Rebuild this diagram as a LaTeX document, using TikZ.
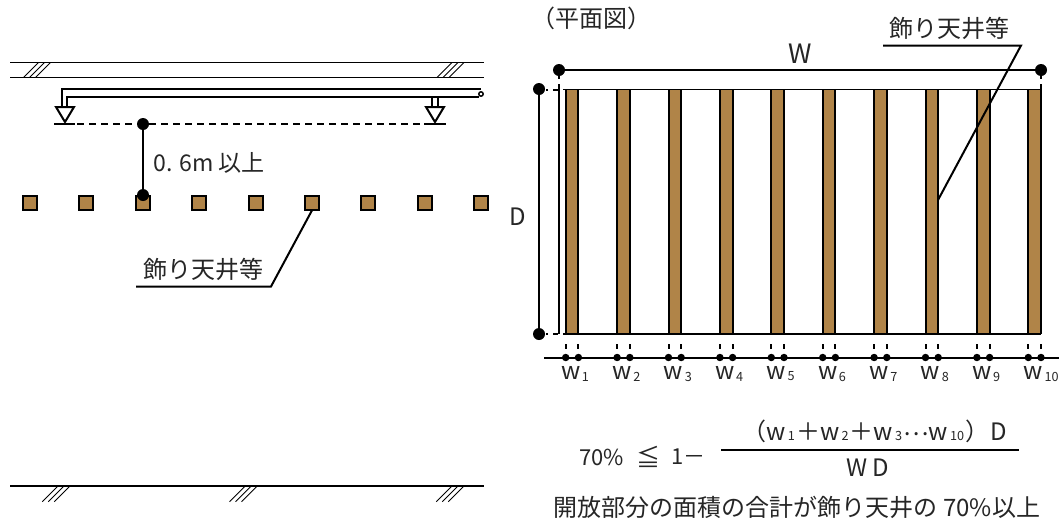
\documentclass[tikz,border=0pt]{standalone}
\usepackage{fontspec}
\setmainfont{Noto Sans CJK JP}
\definecolor{beam}{HTML}{B08448}
\tikzset{
  thick line/.style={draw=black,line width=1.5pt},
  thin line/.style={draw=black,line width=0.75pt},
  hatch line/.style={draw=black,line width=0.7pt},
  bigdot/.style={circle,fill=black,inner sep=0pt,minimum size=9pt},
  smalldot/.style={circle,fill=black,inner sep=0pt,minimum size=5.6pt},
  beamsec/.style={rectangle,draw=black,line width=1.5pt,fill=beam,inner sep=0pt,minimum size=10.5pt},
  txt/.style={inner sep=0pt,font=\fontsize{18pt}{20pt}\selectfont,text=black!85},
  midtxt/.style={inner sep=0pt,font=\fontsize{16.5pt}{18pt}\selectfont,text=black!85},
  bigtxt/.style={inner sep=0pt,font=\fontsize{20pt}{22pt}\selectfont,text=black!85},
  subtxt/.style={inner sep=0pt,font=\fontsize{9.5pt}{12pt}\selectfont,text=black!85},
}
\newcommand{\hatchthree}[4]{% x bottom, y bottom, dx, dy
  \foreach \k in {0,6,12}{\draw[hatch line] ({#1+\k},#2) -- ({#1+\k+#3},{#2-#4});}}
\newcommand{\subnum}[1]{{\fontsize{9.5pt}{12pt}\selectfont\hspace{1.5pt}#1\hspace{1pt}}}
\begin{document}
\begin{tikzpicture}[x=0.75pt,y=-0.75pt]
\useasboundingbox (0,0) rectangle (1059,522);
% left: slab
\draw[thin line,line width=1.3pt] (10,62.5) -- (484,62.5);
\draw[thin line,line width=1.3pt] (10,77.5) -- (484,77.5);
\hatchthree{23.5}{77.5}{15}{15}
\hatchthree{437}{77.5}{15}{15}
% pipe
\draw[thick line] (62,107) -- (62,89) -- (481,89);
\draw[thick line] (67,107) -- (67,96.7) -- (479,96.7);
\draw[thick line] (432,96.7) -- (432,107);
\draw[thick line] (438,96.7) -- (438,107);
\draw[thin line,line width=1.1pt,fill=white] (481,94) circle (2.2);
\draw[thick line,fill=white,line join=miter] (56,107) -- (74,107) -- (65,122) -- cycle;
\draw[thick line,fill=white,line join=miter] (426,107) -- (444,107) -- (435,122) -- cycle;
\draw[thick line] (54,124.3) -- (75,124.3);
\draw[thick line] (424,124.3) -- (446,124.3);
\draw[thin line,line width=1.4pt,dash pattern=on 5pt off 4pt] (77,124.3) -- (424,124.3);
% beams section
\foreach \n/\x in {1/30,2/86.4,3/142.8,4/199.1,5/255.5,6/311.9,7/368.2,8/424.6,9/481}{
  \node[beamsec] (sq\n) at (\x,202.5) {};
}
\node[bigdot] (hA) at (143,124) {};
\node[bigdot] (hB) at (143,195) {};
\draw[thick line] (hA) -- (hB);
\node[txt,anchor=west,font=\fontsize{17.3pt}{20pt}\selectfont] (lblh) at (153,163) {0. 6m 以上};
\node[txt,anchor=center] (lblL) at (203,269) {飾り天井等};
\coordinate (kneeL) at (271,286.5);
\coordinate (endL) at (136,286.5);
\draw[thick line,line join=miter] (sq6.south) -- (kneeL) -- (endL);
% ground
\draw[thick line,line width=1.8pt] (10,485.7) -- (484,485.7);
\hatchthree{42.3}{501.7}{15}{15}
\hatchthree{229.5}{501.7}{15}{15}
\hatchthree{436.3}{501.7}{15}{15}
% right plan
\node[txt] (plan) at (591.5,18) {（平面図）};
\foreach \i in {0,...,9}{
  \pgfmathsetmacro{\xa}{565.7+51.4*\i}
  \pgfmathsetmacro{\xb}{\xa+12.7}
  \fill[beam] (\xa,89.5) rectangle (\xb,334);
  \draw[thick line] (\xa,89.5) -- (\xa,334);
  \draw[thick line] (\xb,89.5) -- (\xb,334);
  \draw[thick line] (\xa,344) -- (\xa,349);
  \draw[thick line] (\xb,344) -- (\xb,349);
}
\draw[thin line,line width=1.3pt] (563,89.5) -- (1041,89.5);
\draw[thin line,line width=1.3pt] (563,334) -- (1041,334);
\draw[thick line] (553,89.5) -- (558,89.5);
\draw[thick line] (553,334) -- (558,334);
\draw[thick line] (559,84) -- (559,334);
\draw[thick line] (1041,84) -- (1041,89.5);
\draw[thick line] (559,74) -- (559,79);
\draw[thick line] (1041,74) -- (1041,79);
\draw[thick line] (546,89.5) -- (548,89.5);
\draw[thick line] (546,334) -- (548,334);
% W
\node[bigdot] (wL) at (559,70) {};
\node[bigdot] (wR) at (1041,70) {};
\draw[thick line] (wL) -- (wR);
\node[bigtxt] (lblW) at (800,54) {W};
% D
\node[bigdot] (dT) at (539,89) {};
\node[bigdot] (dB) at (539,334) {};
\draw[thick line] (dT) -- (dB);
\node[txt] (lblD) at (518,217) {D};
% leader
\node[txt] (lblR) at (949,28) {飾り天井等};
\coordinate (endR) at (883,45.5);
\coordinate (kneeR) at (1021,45.5);
\coordinate (tipR) at (938,200);
\draw[thick line,line join=miter] (endR) -- (kneeR) -- (tipR);
% bottom dim
\coordinate (bL) at (544,357.5);
\coordinate (bR) at (1059,357.5);
\draw[thick line] (bL) -- (bR);
\foreach \i in {0,...,9}{
  \pgfmathsetmacro{\xa}{565.7+51.4*\i}
  \pgfmathsetmacro{\xb}{\xa+12.7}
  \pgfmathtruncatemacro{\num}{\i+1}
  \node[smalldot] at (\xa,357.5) {};
  \node[smalldot] at (\xb,357.5) {};
  \node[txt] (w\num) at ({\xa+5},372.5) {w};
  \node[subtxt,anchor=west] at ({\xa+16},376.5) {\num};
}
% formula
\node[midtxt,anchor=west] (f1) at (579,457) {70\%};
\node[txt,anchor=west] (f2) at (636,457) {≦};
\node[midtxt,anchor=west] (f3) at (671,457) {1－};
\node[txt,anchor=base] (num) at (875,440) {（w\subnum{1}＋w\subnum{2}＋w\subnum{3}\raisebox{3.5pt}{…}w\subnum{10}）\hspace{1pt}D};
\coordinate (fa) at (721,450);
\coordinate (fb) at (1019,450);
\draw[thick line] (fa) -- (fb);
\node[txt] (den) at (868,468) {W D};
\node[txt] (note) at (797,507) {開放部分の面積の合計が飾り天井の 70\%以上};
\end{tikzpicture}
\end{document}
